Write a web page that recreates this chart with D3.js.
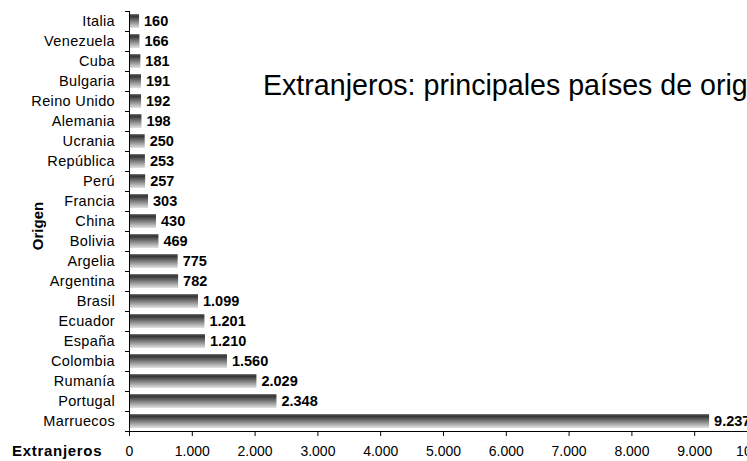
<!DOCTYPE html>
<html>
<head>
<meta charset="utf-8">
<script src="https://cdn.jsdelivr.net/npm/d3@7"></script>
<style>
    body { margin: 0; background: #fff; }
    svg { display: block; font-family: "Liberation Sans", Arial, sans-serif; }
    .axis path, .axis line { stroke: #000; }
    .cat { font-size: 14.5px; letter-spacing: 0.35px; }
    .val { font-size: 14.5px; font-weight: bold; }
</style>
</head>
<body>
<div id="svg_div"><svg width="747" height="461"></svg></div>
<script>
// Countries of origin, top to bottom
var countries = ["Italia", "Venezuela", "Cuba", "Bulgaria", "Reino Unido", "Alemania", "Ucrania",
    "República", "Perú", "Francia", "China", "Bolivia", "Argelia", "Argentina", "Brasil",
    "Ecuador", "España", "Colombia", "Rumanía", "Portugal", "Marruecos"];
var counts = [160, 166, 181, 191, 192, 198, 250, 253, 257, 303, 430, 469, 775, 782, 1099,
    1201, 1210, 1560, 2029, 2348, 9237];
var xTicks = [0, 1000, 2000, 3000, 4000, 5000, 6000, 7000, 8000, 9000, 10000];

var svg = d3.select("#svg_div").select("svg");
var margin = {top: 11, left: 129, bottom: 30, right: -10};
var svgWidth = +svg.attr("width");
var svgHeight = +svg.attr("height");
var height = svgHeight - margin.top - margin.bottom;

// Spanish number format (1.099)
var es = d3.formatLocale({decimal: ",", thousands: ".", grouping: [3], currency: ["", "€"]});
var fmt = es.format(",d");

// Bar gradient
var defs = svg.append("defs");
var grad = defs.append("linearGradient")
    .attr("id", "barGrad")
    .attr("x1", 0).attr("y1", 0).attr("x2", 0).attr("y2", 1);
grad.append("stop").attr("offset", "0%").attr("stop-color", "#808080");
grad.append("stop").attr("offset", "14%").attr("stop-color", "#303030");
grad.append("stop").attr("offset", "100%").attr("stop-color", "#e2e2e2");

var xScale = d3.scaleLinear()
    .domain([0, 10000])
    .range([margin.left, 757]);

var yScale = d3.scaleBand()
    .domain(countries)
    .range([margin.top, margin.top + height])
    .paddingInner(0.3)
    .paddingOuter(0.15);

// Bars
svg.append("g").selectAll("rect")
    .data(countries)
    .enter()
    .append("rect")
    .attr("x", xScale(0) + 1)
    .attr("y", function(d) { return yScale(d); })
    .attr("width", function(d, i) { return xScale(counts[i]) - xScale(0) - 1; })
    .attr("height", yScale.bandwidth())
    .attr("fill", "url(#barGrad)");

// Value labels
svg.append("g").selectAll("text")
    .data(countries)
    .enter()
    .append("text")
    .attr("class", "val")
    .attr("x", function(d, i) { return xScale(counts[i]) + 5; })
    .attr("y", function(d) { return yScale(d) + yScale.bandwidth() / 2; })
    .attr("dy", "0.36em")
    .text(function(d, i) { return fmt(counts[i]); });

// Y axis: ticks at band boundaries
var yAxisG = svg.append("g").attr("class", "axis");
yAxisG.append("line")
    .attr("x1", xScale(0) + 0.5).attr("x2", xScale(0) + 0.5)
    .attr("y1", margin.top).attr("y2", margin.top + height + 0.5);
yAxisG.selectAll(".tk")
    .data(d3.range(countries.length + 1))
    .enter()
    .append("line")
    .attr("x1", xScale(0) - 4).attr("x2", xScale(0) + 0.5)
    .attr("y1", function(i) { return Math.round(margin.top + i * yScale.step()) + 0.5; })
    .attr("y2", function(i) { return Math.round(margin.top + i * yScale.step()) + 0.5; });

// Category labels
svg.append("g").selectAll("text")
    .data(countries)
    .enter()
    .append("text")
    .attr("class", "cat")
    .attr("text-anchor", "end")
    .attr("x", xScale(0) - 14)
    .attr("y", function(d) { return yScale(d) + yScale.bandwidth() / 2; })
    .attr("dy", "0.36em")
    .text(function(d) { return d; });

// X axis
var xAxis = d3.axisBottom(xScale)
    .tickValues(xTicks)
    .tickSize(5)
    .tickPadding(10)
    .tickFormat(fmt);
var xAxisG = svg.append("g")
    .attr("class", "axis")
    .attr("transform", "translate(0," + (margin.top + height) + ")")
    .call(xAxis);
xAxisG.select(".domain").attr("d", "M" + xScale(0) + ",0.5H757");
xAxisG.selectAll("text")
    .attr("font-size", "14px")
    .attr("font-family", "Liberation Sans, Arial, sans-serif")
    .attr("fill", "#000");

// Axis titles
svg.append("text")
    .attr("x", 12)
    .attr("y", 456)
    .attr("font-size", "15px")
    .attr("font-weight", "bold")
    .attr("letter-spacing", "0.7px")
    .text("Extranjeros");

svg.append("text")
    .attr("transform", "translate(43,226) rotate(-90)")
    .attr("text-anchor", "middle")
    .attr("font-size", "15px")
    .attr("font-weight", "bold")
    .text("Origen");

// Chart title
svg.append("text")
    .attr("x", 263)
    .attr("y", 95)
    .attr("font-size", "28.6px")
    .text("Extranjeros: principales países de origen");
</script>
</body>
</html>
